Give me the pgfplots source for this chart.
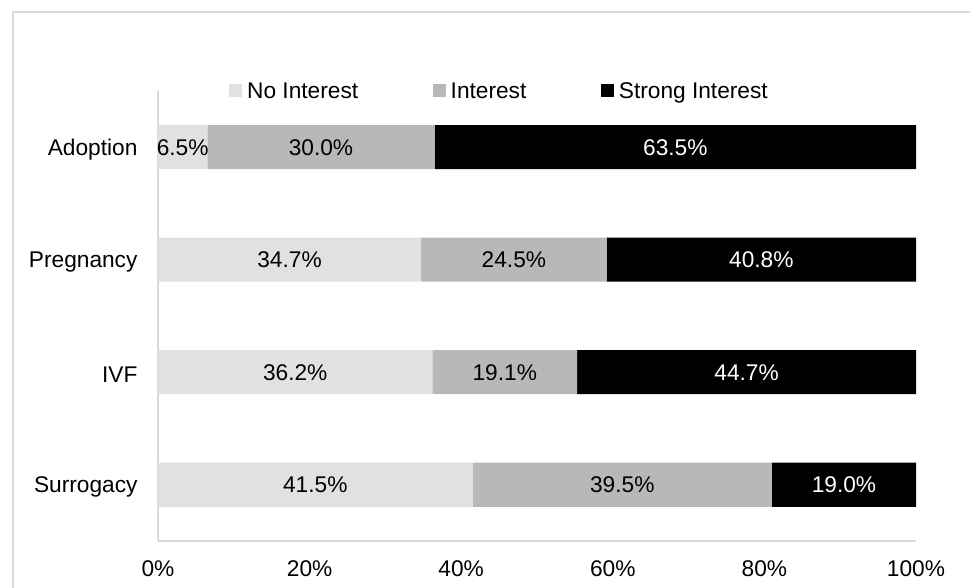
\documentclass[border=0pt]{standalone}
\usepackage{pgfplots}
\usepackage{pgfplotstable}
\pgfplotsset{compat=1.18}
\usepackage{fontspec}
\setmainfont{Liberation Sans}
\definecolor{cno}{HTML}{E1E1E1}
\definecolor{cint}{HTML}{B8B8B8}
\definecolor{cframe}{HTML}{D9D9D9}
\pgfplotstableread{
cat no int strong
0 6.5 30.0 63.5
1 34.7 24.5 40.8
2 36.2 19.1 44.7
3 41.5 39.5 19.0
}\data
\begin{document}
\begin{tikzpicture}[x=1pt,y=1pt]
\useasboundingbox (0,0) rectangle (970,588);
\draw[cframe,line width=1.5pt] (13,0) -- (13,576) -- (970,576);
\begin{axis}[
  at={(158pt,47pt)}, anchor=south west,
  scale only axis, width=758pt, height=450pt,
  xbar stacked, bar width=44pt,
  xmin=0, xmax=100, ymin=-0.5, ymax=3.5,
  y dir=reverse,
  ytick={0,1,2,3},
  yticklabels={Adoption,Pregnancy,IVF,Surrogacy},
  xtick={0,20,40,60,80,100},
  xticklabel={\pgfmathprintnumber{\tick}\%},
  /pgf/number format/assume math mode=true,
  major tick length=0pt,
  axis x line=none,
  axis y line*=left,
  axis line style={cframe, line width=1.2pt},
  y axis line style={-},
  tick label style={font=\fontsize{22.7}{27}\selectfont, text=black},
  xticklabel style={yshift=-16pt},
  yticklabel style={xshift=-17pt, yshift=-2pt},
  hide x axis=false,
  legend columns=3,
  legend style={at={(0.4505,1.0)}, anchor=center, draw=none, fill=none,
    font=\fontsize{22.7}{27}\selectfont,
    /tikz/every odd column/.append style={column sep=3pt},
    /tikz/every even column/.append style={column sep=72.5pt}},
  legend image code/.code={\path[#1,draw=none] (0pt,-6.5pt) rectangle (13pt,6.5pt);},
]
\addplot[fill=cno, draw=none] table[x=no, y=cat] {\data};
\addplot[fill=cint, draw=none] table[x=int, y=cat] {\data};
\addplot[fill=black, draw=none] table[x=strong, y=cat] {\data};
\legend{No Interest, Interest, Strong Interest}
\end{axis}
\begin{axis}[
  at={(158pt,47pt)}, anchor=south west,
  scale only axis, width=758pt, height=450pt,
  xmin=0, xmax=100, ymin=-0.5, ymax=3.5,
  y dir=reverse, hide axis,
  point meta=explicit,
  nodes near coords={\pgfmathprintnumber[fixed,fixed zerofill,precision=1,assume math mode=true]{\pgfplotspointmeta}\%},
  every node near coord/.append style={anchor=center, font=\fontsize{22.7}{27}\selectfont},
]
\addplot[only marks, mark=*, mark size=0pt, draw=none]
  table[x expr=\thisrow{no}/2, y=cat, meta=no] {\data};
\addplot[only marks, mark=*, mark size=0pt, draw=none]
  table[x expr=\thisrow{no}+\thisrow{int}/2, y=cat, meta=int] {\data};
\addplot[only marks, mark=*, mark size=0pt, draw=none,
  every node near coord/.append style={text=white}]
  table[x expr=\thisrow{no}+\thisrow{int}+\thisrow{strong}/2, y=cat, meta=strong] {\data};
\end{axis}
\end{tikzpicture}
\end{document}
